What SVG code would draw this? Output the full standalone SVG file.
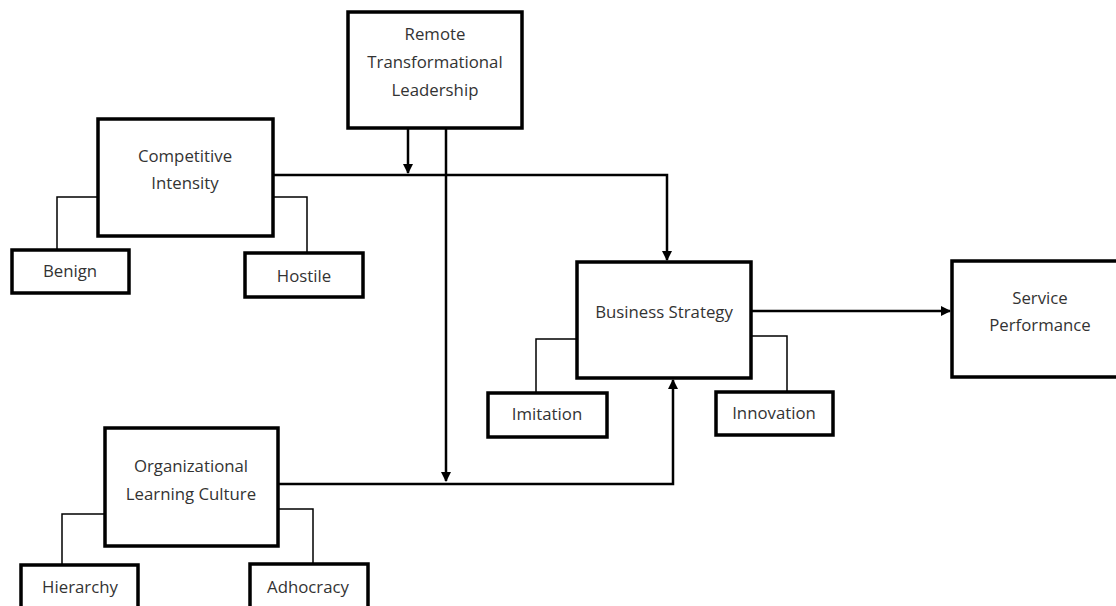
<svg xmlns="http://www.w3.org/2000/svg" width="1116" height="606" viewBox="0 0 1116 606">
<style>
.box{fill:#fff;stroke:#000;stroke-width:3.5}
.t{font-family:"Open Sans","Noto Sans",sans-serif;font-size:16.8px;fill:#333;text-anchor:middle;dominant-baseline:central}
.arr{fill:none;stroke:#000;stroke-width:2.5}
.sub{fill:none;stroke:#000;stroke-width:1.5}
</style>
<defs>
<marker id="ah" viewBox="0 0 10 10" refX="9" refY="5" markerWidth="4" markerHeight="4" orient="auto" markerUnits="strokeWidth">
<path d="M0,0 L10,5 L0,10 z" fill="#000"/>
</marker>
</defs>
<rect width="1116" height="606" fill="#fff"/>
<g id="connectors">
<path class="arr" d="M408,129 V173" marker-end="url(#ah)"/>
<path class="arr" d="M446,129 V481" marker-end="url(#ah)"/>
<path class="arr" d="M273,175 H667 V260" marker-end="url(#ah)"/>
<path class="arr" d="M278,484 H673 V380" marker-end="url(#ah)"/>
<path class="arr" d="M751,311 H950" marker-end="url(#ah)"/>
<path class="sub" d="M98,197 H57 V250"/>
<path class="sub" d="M273,197 H307 V253"/>
<path class="sub" d="M577,339 H536 V393"/>
<path class="sub" d="M751,336 H787 V392"/>
<path class="sub" d="M105,514 H62 V565"/>
<path class="sub" d="M278,509 H313 V564"/>
</g>
<g id="remote">
<rect class="box" x="348" y="12" width="174" height="116"/>
<text class="t" x="435" y="33">Remote</text>
<text class="t" x="435" y="61">Transformational</text>
<text class="t" x="435" y="89">Leadership</text>
</g>
<g id="competitive">
<rect class="box" x="98" y="119" width="175" height="117"/>
<text class="t" x="185" y="155">Competitive</text>
<text class="t" x="185" y="182">Intensity</text>
</g>
<g id="benign">
<rect class="box" x="12" y="250" width="117" height="43"/>
<text class="t" x="70" y="270">Benign</text>
</g>
<g id="hostile">
<rect class="box" x="245" y="253" width="118" height="44"/>
<text class="t" x="304" y="275">Hostile</text>
</g>
<g id="business">
<rect class="box" x="577" y="262" width="174" height="116"/>
<text class="t" x="664" y="311">Business Strategy</text>
</g>
<g id="imitation">
<rect class="box" x="488" y="393" width="119" height="44"/>
<text class="t" x="547" y="413">Imitation</text>
</g>
<g id="innovation">
<rect class="box" x="716" y="392" width="117" height="43"/>
<text class="t" x="774" y="412">Innovation</text>
</g>
<g id="service">
<rect class="box" x="952" y="261" width="180" height="116"/>
<text class="t" x="1040" y="297">Service</text>
<text class="t" x="1040" y="324">Performance</text>
</g>
<g id="org">
<rect class="box" x="105" y="428" width="173" height="118"/>
<text class="t" x="191" y="465">Organizational</text>
<text class="t" x="191" y="493">Learning Culture</text>
</g>
<g id="hierarchy">
<rect class="box" x="21" y="565" width="117" height="60"/>
<text class="t" x="80" y="586">Hierarchy</text>
</g>
<g id="adhocracy">
<rect class="box" x="250" y="564" width="118" height="60"/>
<text class="t" x="308" y="586">Adhocracy</text>
</g>
</svg>
